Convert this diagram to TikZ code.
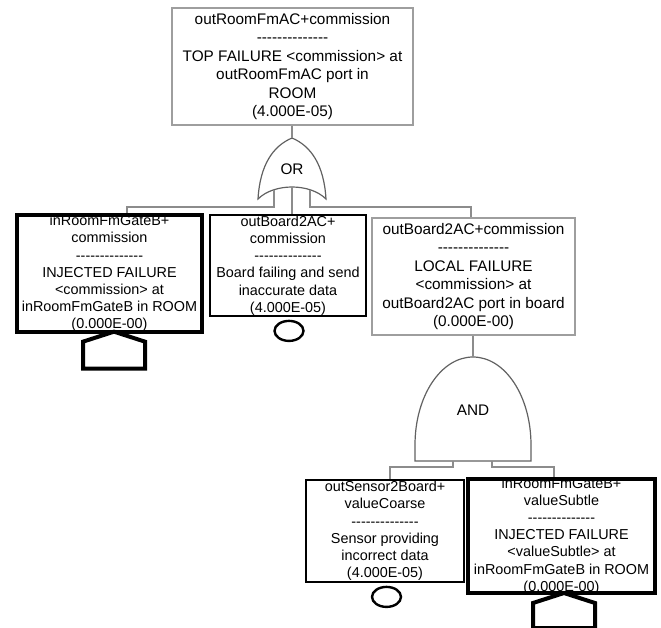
\documentclass[tikz,border=0pt]{standalone}
\usepackage{fontspec}
\newfontfamily\dfont{Liberation Sans}
\usetikzlibrary{calc,shapes.geometric}
% separator line of fourteen plain hyphens
\newcommand\hy{-\kern0pt}
\newcommand\dashline{\hy\hy\hy\hy\hy\hy\hy\hy\hy\hy\hy\hy\hy\hy}
\tikzset{
  wire/.style={draw=black!45, line width=0.9pt},
  gate/.style={draw=black!62, line width=0.9pt},
  thinbox/.style={rectangle, draw=black!38, line width=0.9pt, inner sep=0pt},
  thickbox/.style={rectangle, draw=black, inner sep=0pt},
  txt/.style={font=\dfont\fontsize{11.5}{13.9}\selectfont, align=center, inner sep=0pt},
  txtt/.style={font=\dfont\fontsize{10.8}{12.9}\selectfont, align=center, inner sep=0pt},
  event/.style={ellipse, draw=black, line width=1.8pt, inner sep=0pt,
    minimum width=21.75pt, minimum height=15pt},
  house/.style={draw=black, line width=3pt, line join=miter},
}
\begin{document}
\begin{tikzpicture}[x=0.75pt,y=-0.75pt]
\useasboundingbox (0,0) rectangle (661,628);

% ---- event boxes ----
\node[thinbox, minimum width=180.75pt, minimum height=87.75pt] (top) at (292.5,66.5) {};
\node[txt] (top-t) at (top.center) {outRoomFmAC+commission\\\dashline\\TOP FAILURE <commission> at\\outRoomFmAC port in\\ROOM\\(4.000E-05)};

\node[thickbox, line width=2.5pt, minimum width=138.75pt, minimum height=87.75pt] (inj1) at (109.5,273.5) {};
\node[txtt] (inj1-t) at (inj1.center) {inRoomFmGateB+\\commission\\\dashline\\INJECTED FAILURE\\<commission> at\\inRoomFmGateB in ROOM\\(0.000E-00)};

\node[thickbox, line width=1.8pt, minimum width=117pt, minimum height=75.75pt] (be1) at (288,265.5) {};
\node[txtt] (be1-t) at (be1.center) {outBoard2AC+\\commission\\\dashline\\Board failing and send\\inaccurate data\\(4.000E-05)};

\node[thinbox, minimum width=152.25pt, minimum height=87.75pt] (loc) at (473.5,276.5) {};
\node[txt] (loc-t) at (loc.center) {outBoard2AC+commission\\\dashline\\LOCAL FAILURE\\<commission> at\\outBoard2AC port in board\\(0.000E-00)};

\node[thickbox, line width=1.8pt, minimum width=118.5pt, minimum height=76.5pt] (sens) at (385,531) {};
\node[txtt] (sens-t) at (sens.center) {outSensor2Board+\\valueCoarse\\\dashline\\Sensor providing\\incorrect data\\(4.000E-05)};

\node[thickbox, line width=3pt, minimum width=140.25pt, minimum height=85.5pt] (inj2) at (561.5,536) {};
\node[txtt] (inj2-t) at (inj2.center) {inRoomFmGateB+\\valueSubtle\\\dashline\\INJECTED FAILURE\\<valueSubtle> at\\inRoomFmGateB in ROOM\\(0.000E-00)};

% ---- OR gate ----
\coordinate (or-top) at (292,138);
\coordinate (or-l) at (274,190);
\coordinate (or-m) at (292,187);
\coordinate (or-r) at (310,190);
\coordinate (bus1) at (0,207);
\draw[gate] (258,199) .. controls (260,165) and (273,146) .. (or-top)
  .. controls (311,146) and (324,165) .. (326,199)
  .. controls (310,183) and (274,183) .. cycle;
\node[txt] (or-lbl) at (292,169) {OR};

% ---- AND gate ----
\coordinate (and-top) at (473,357);
\coordinate (and-l) at (453,461);
\coordinate (and-r) at (492,461);
\coordinate (bus2) at (0,467);
\draw[gate] (415,461) -- (415,445) .. controls (415,396) and (441,357) .. (and-top)
  .. controls (505,357) and (531,396) .. (531,445) -- (531,461) -- cycle;
\node[txt] (and-lbl) at (473,410) {AND};

% ---- connectors ----
\draw[wire] (or-top |- top.south) -- (or-top);
\draw[wire] (or-l) -- (or-l |- bus1) -| ($(inj1.north)+(17.5,0)$);
\draw[wire] (or-m) -- (or-m |- be1.north);
\draw[wire] (or-r) -- (or-r |- bus1) -| ($(loc.north)+(-2.5,0)$);
\draw[wire] (and-top |- loc.south) -- (and-top);
\draw[wire] (and-l) -- (and-l |- bus2) -| ($(sens.north)+(5,0)$);
\draw[wire] (and-r) -- (and-r |- bus2) -| ($(inj2.north)+(-7.5,0)$);

% ---- basic events ----
\node[event, anchor=north] (ev1) at ($(be1.south)+(1,2.5)$) {};
\node[event, anchor=north] (ev2) at ($(sens.south)+(1.5,2.5)$) {};

% ---- house events ----
\draw[house] ($(inj1.south)+(4.5,-2)$) coordinate (h1) -- ++(31,10) -- ++(0,27) -- ++(-62,0) -- ++(0,-27) -- cycle;
\draw[house] ($(inj2.south)+(2.5,-2)$) coordinate (h2) -- ++(31,10) -- ++(0,25) -- ++(-62,0) -- ++(0,-25) -- cycle;
\end{tikzpicture}
\end{document}
